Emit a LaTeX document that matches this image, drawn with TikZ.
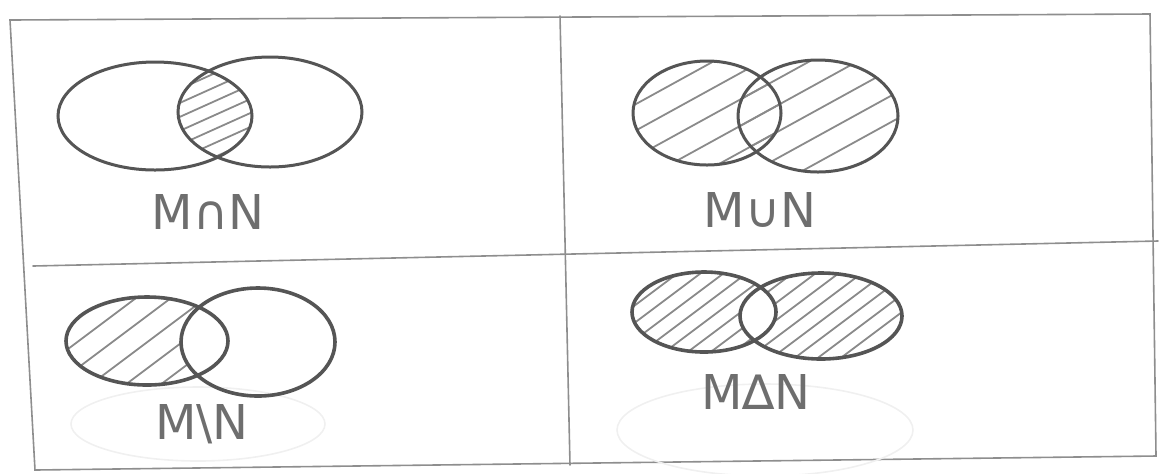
\documentclass[tikz,border=0pt]{standalone}
\usepackage{fontspec}
\setmainfont{DejaVu Sans}
\definecolor{pencil}{HTML}{555555}
\definecolor{framegray}{HTML}{8E8E8E}
\definecolor{hatchgray}{HTML}{8A8A8A}
\definecolor{textgray}{HTML}{6E6E6E}
\definecolor{ghost}{HTML}{F0F0F0}
\tikzset{
  frameline/.style={draw=framegray, line width=0.8pt, line cap=round},
  setline/.style={draw=pencil, line width=1.5pt},
  thickset/.style={draw=pencil, line width=1.8pt},
  hatchline/.style={draw=hatchgray, line width=0.9pt, line cap=round},
  ghostline/.style={draw=ghost, line width=0.8pt},
  setlabel/.style={text=textgray, font=\fontsize{24}{24}\selectfont, inner sep=0pt}
}
\newcommand\hatchlines[4]{%
  \foreach \k in {-14,...,14}{
    \draw[hatchline] ({#1+\k*#3-250},{#2+250*#4}) -- ({#1+\k*#3+250},{#2-250*#4});
  }}
\begin{document}
\begin{tikzpicture}[x=0.5pt,y=-0.5pt]
\useasboundingbox (0,0) rectangle (1160,473);
% frame
\coordinate (tl) at (10,20);
\coordinate (tr) at (1150,14);
\coordinate (bl) at (35,470);
\coordinate (br) at (1156,456);
\coordinate (mt) at (560,16);
\coordinate (mb) at (570,465);
\coordinate (ml) at (33,266);
\coordinate (mr) at (1158,241);
\draw[frameline] (tl) -- (tr) -- (br) -- (bl) -- cycle;
\draw[frameline] (mt) -- (mb);
\draw[frameline] (ml) -- (mr);

% ---------- M cap N ----------
\begin{scope}
  \clip (155,116) ellipse [x radius=97, y radius=54];
  \clip (270,112) ellipse [x radius=92, y radius=55];
  \hatchlines{215}{115}{31}{0.45}
\end{scope}
\draw[setline] (155,116) ellipse [x radius=97, y radius=54];
\draw[setline] (270,112) ellipse [x radius=92, y radius=55];
\node[setlabel] (capl) at (208,212) {M∩N};

% ---------- M cup N ----------
\begin{scope}
  \clip (707,113) ellipse [x radius=74, y radius=52];
  \hatchlines{760}{115}{48}{0.55}
\end{scope}
\begin{scope}
  \clip (818,116) ellipse [x radius=80, y radius=56];
  \hatchlines{760}{115}{48}{0.55}
\end{scope}
\draw[setline] (707,113) ellipse [x radius=74, y radius=52];
\draw[setline] (818,116) ellipse [x radius=80, y radius=56];
\node[setlabel] (cupl) at (760,210) {M∪N};

% ---------- M \ N ----------
\draw[ghostline] (198,424) ellipse [x radius=127, y radius=37];
\begin{scope}
  \clip (147,341) ellipse [x radius=81, y radius=44];
  \hatchlines{150}{340}{35}{0.75}
  \fill[white] (258,342) ellipse [x radius=77, y radius=54];
\end{scope}
\draw[thickset] (147,341) ellipse [x radius=81, y radius=44];
\draw[thickset] (258,342) ellipse [x radius=77, y radius=54];
\node[setlabel] (minusl) at (202,424) {M\textbackslash N};

% ---------- M Delta N ----------
\draw[ghostline] (765,430) ellipse [x radius=148, y radius=46];
\begin{scope}
  \clip (704,312) ellipse [x radius=72, y radius=40];
  \hatchlines{760}{315}{23}{0.75}
\end{scope}
\begin{scope}
  \clip (821,316) ellipse [x radius=81, y radius=43];
  \hatchlines{760}{315}{23}{0.75}
\end{scope}
\begin{scope}
  \clip (704,312) ellipse [x radius=72, y radius=40];
  \fill[white] (821,316) ellipse [x radius=81, y radius=43];
\end{scope}
\draw[thickset] (704,312) ellipse [x radius=72, y radius=40];
\draw[thickset] (821,316) ellipse [x radius=81, y radius=43];
\node[setlabel] (deltal) at (756,392) {M∆N};
\end{tikzpicture}
\end{document}
